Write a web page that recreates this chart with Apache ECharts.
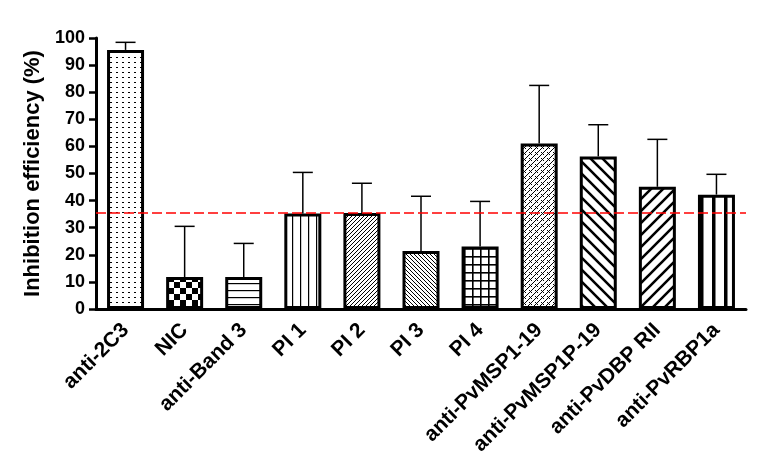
<!DOCTYPE html>
<html>
<head>
<meta charset="utf-8">
<script src="https://cdn.jsdelivr.net/npm/echarts@6/dist/echarts.min.js"></script>
<style>
html,body{margin:0;padding:0;background:#fff;}
#chart{width:761px;height:473px;}
</style>
</head>
<body>
<div id="chart"></div>
<script>
// ---- data ----
const categories = ['anti-2C3','NIC','anti-Band 3','PI 1','PI 2','PI 3','PI 4','anti-PvMSP1-19','anti-PvMSP1P-19','anti-PvDBP RII','anti-PvRBP1a'];
const means = [95.6, 11.8, 11.8, 35.2, 35.4, 21.4, 23.1, 61.1, 56.3, 45.1, 42.2];
const errors = [2.8, 18.7, 12.4, 15.2, 11.0, 20.2, 16.6, 21.4, 11.7, 17.5, 7.5];
const threshold = 35.7;
const yTicks = {min: 0, max: 100, interval: 10};

// ---- fill patterns (styles) ----
function pat(w, h, draw) {
  const c = document.createElement('canvas');
  c.width = w; c.height = h;
  const ctx = c.getContext('2d');
  ctx.fillStyle = '#fff'; ctx.fillRect(0, 0, w, h);
  ctx.fillStyle = '#000'; ctx.strokeStyle = '#000';
  draw(ctx, w, h);
  return {image: c, repeat: 'repeat'};
}
function diag(ctx, p, lw, dir) {
  ctx.lineWidth = lw;
  ctx.beginPath();
  for (let k = -2; k <= 2; k++) {
    if (dir > 0) { ctx.moveTo(k * p - p, 2 * p); ctx.lineTo(k * p + 2 * p, -p); }
    else { ctx.moveTo(k * p - p, -p); ctx.lineTo(k * p + 2 * p, 2 * p); }
  }
  ctx.stroke();
}
const patterns = [
  pat(6, 5, (c) => { c.fillRect(2, 2, 2, 1); }),
  pat(12, 12, (c) => { c.fillRect(0, 0, 6, 6); c.fillRect(6, 6, 6, 6); }),
  pat(8, 7, (c) => { c.fillRect(0, 3, 8, 1.2); }),
  pat(8, 8, (c) => { c.fillRect(4, 0, 1.2, 8); }),
  pat(4, 4, (c) => { for (let i = 0; i < 4; i++) c.fillRect(i, 3 - i, 1, 1); }),
  pat(4, 4, (c) => { for (let i = 0; i < 4; i++) c.fillRect(i, i, 1, 1); }),
  pat(8, 8, (c) => { c.fillRect(0, 0, 8, 1.6); c.fillRect(0, 0, 1.6, 8); }),
  pat(6, 6, (c) => { for (let i = 0; i < 6; i++) c.fillRect(i, 5 - i, 1, 1); c.fillRect(1, 2, 1, 1); c.fillRect(3, 4, 1, 1); }),
  pat(12, 12, (c) => diag(c, 12, 2.6, -1)),
  pat(12, 12, (c) => diag(c, 12, 2.6, 1)),
  pat(12, 4, (c) => { c.fillRect(4, 0, 3.5, 4); })
];

const font = '"Liberation Sans", Arial, sans-serif';
const chart = echarts.init(document.getElementById('chart'), null, {renderer: 'canvas'});
chart.setOption({
  backgroundColor: '#fff',
  animation: false,
  grid: {left: 96, right: 15, top: 38, bottom: 164, containLabel: false},
  xAxis: {
    type: 'category',
    data: categories,
    axisLine: {lineStyle: {color: '#000', width: 3}},
    axisTick: {alignWithLabel: true, length: 6, lineStyle: {color: '#000', width: 2.5}},
    axisLabel: {rotate: 45, color: '#000', fontFamily: font, fontWeight: 'bold', fontSize: 21, margin: 18, interval: 0}
  },
  yAxis: {
    type: 'value',
    min: yTicks.min, max: yTicks.max, interval: yTicks.interval,
    name: 'Inhibition efficiency (%)',
    nameLocation: 'middle',
    nameGap: 50,
    nameTextStyle: {color: '#000', fontFamily: font, fontWeight: 'bold', fontSize: 22},
    axisLine: {show: true, lineStyle: {color: '#000', width: 3}},
    axisTick: {show: true, length: 7, lineStyle: {color: '#000', width: 2.5}},
    axisLabel: {color: '#000', fontFamily: font, fontWeight: 'bold', fontSize: 18, margin: 11},
    splitLine: {show: false}
  },
  series: [
    {
      type: 'custom',
      z: 1,
      renderItem: function (params, api) {
        const base = api.coord([api.value(0), api.value(1)]);
        const top = api.coord([api.value(0), api.value(2)]);
        const style = {stroke: '#000', lineWidth: 1.5};
        return {
          type: 'group',
          children: [
            {type: 'line', shape: {x1: base[0], y1: base[1], x2: top[0], y2: top[1]}, style: style},
            {type: 'line', shape: {x1: top[0] - 10, y1: top[1], x2: top[0] + 10, y2: top[1]}, style: style}
          ]
        };
      },
      data: categories.map((c, i) => [i, means[i], means[i] + errors[i]])
    },
    {
      type: 'bar',
      z: 2,
      barWidth: 37,
      data: means.map((v, i) => ({value: v, itemStyle: {color: patterns[i], borderColor: '#000', borderWidth: 3}})),
      markLine: {
        silent: true,
        symbol: 'none',
        label: {show: false},
        lineStyle: {color: '#ff0000', width: 1.5, type: [10, 4]},
        data: [{yAxis: threshold}]
      }
    }
  ]
});
</script>
</body>
</html>
